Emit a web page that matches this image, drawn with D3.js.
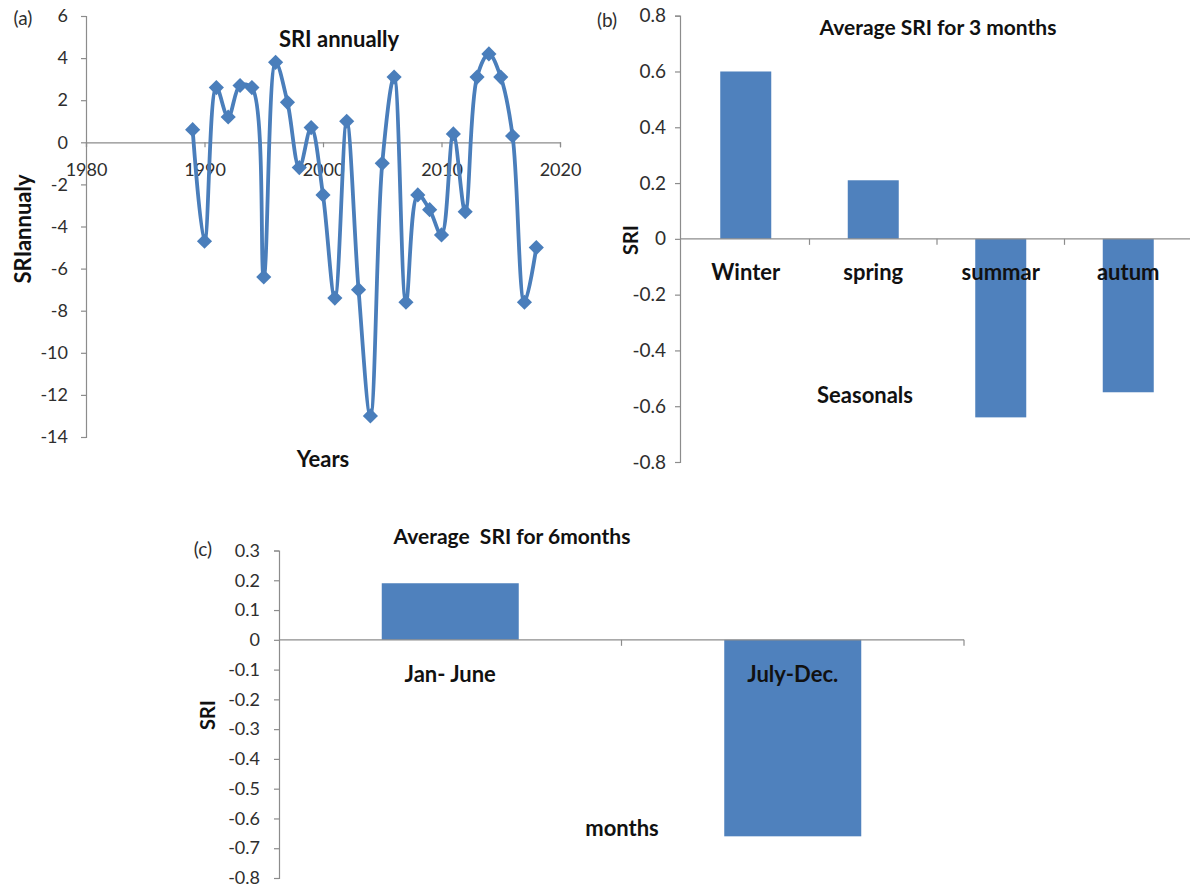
<!DOCTYPE html>
<html>
<head>
<meta charset="utf-8">
<script src="https://cdn.jsdelivr.net/npm/d3@7/dist/d3.min.js"></script>
<style>
  html, body { margin: 0; padding: 0; background: #ffffff; }
  svg { display: block; }
  text { font-family: Lato, "Open Sans", sans-serif; }
  .tick-label { font-size: 18px; fill: #2e2e2e; }
  .bold { font-weight: bold; fill: #111; }
</style>
</head>
<body>
<svg id="chart" width="1190" height="887"></svg>
<script>
// ---- Data ----
// (a) annual SRI
const years = [1989, 1990, 1991, 1992, 1993, 1994, 1995, 1996, 1997, 1998,
               1999, 2000, 2001, 2002, 2003, 2004, 2005, 2006, 2007, 2008,
               2009, 2010, 2011, 2012, 2013, 2014, 2015, 2016, 2017, 2018];
const sriAnnual = [0.6, -4.7, 2.6, 1.2, 2.7, 2.6, -6.4, 3.8, 1.9, -1.2,
                   0.7, -2.5, -7.4, 1.0, -7.0, -13.0, -1.0, 3.1, -7.6, -2.5,
                   -3.2, -4.4, 0.4, -3.3, 3.1, 4.2, 3.1, 0.3, -7.6, -5.0];
const yearTicks = [1980, 1990, 2000, 2010, 2020];
const annualTicks = [6, 4, 2, 0, -2, -4, -6, -8, -10, -12, -14];

// (b) 3-month average SRI
const seasons = ["Winter", "spring", "summar", "autum"];
const sriSeason = [0.6, 0.21, -0.64, -0.55];
const seasonTicks = [0.8, 0.6, 0.4, 0.2, 0, -0.2, -0.4, -0.6, -0.8];

// (c) 6-month average SRI
const halves = ["Jan- June", "July-Dec."];
const sriHalf = [0.19, -0.66];
const halfTicks = [0.3, 0.2, 0.1, 0, -0.1, -0.2, -0.3, -0.4, -0.5, -0.6, -0.7, -0.8];

const BLUE = "#4f81bd";
const LINE_BLUE = "#4a7ebb";
const AXIS = "#8c8c8c";

// plain hyphen for negatives, as in spreadsheet output
const intFmt = d => String(d);
const decFmt = d => d === 0 ? "0" : d.toFixed(1);

const svg = d3.select("#chart");

// Value axis: line, outward ticks and right-aligned labels
function valueAxis(g, y, ticks, x0, fmt, pad, size) {
  const ax = d3.axisLeft(y).tickValues(ticks).tickSize(5).tickPadding(pad).tickFormat(fmt);
  const sel = g.append("g").attr("transform", `translate(${x0},0)`).call(ax);
  sel.select(".domain").attr("stroke", AXIS).attr("stroke-width", 1.2);
  sel.selectAll(".tick line").attr("stroke", AXIS).attr("stroke-width", 1.2);
  sel.selectAll(".tick text").attr("class", "tick-label").attr("font-family", null).attr("font-size", null)
    .style("font-size", size + "px");
  return sel;
}

function txt(g, x, y, s, cls, size, rotate) {
  const t = g.append("text").attr("x", x).attr("y", y).text(s)
    .attr("text-anchor", "middle").attr("dominant-baseline", "central")
    .attr("class", cls).style("font-size", size + "px");
  if (rotate) t.attr("transform", `rotate(-90,${x},${y})`);
  return t;
}

// ---- Panel (a): annual SRI line ----
{
  const g = svg.append("g");
  const x = d3.scaleLinear().domain([1980, 2020]).range([86, 560]);
  const y = d3.scaleLinear().domain([-14, 6]).range([437, 16]);

  valueAxis(g, y, annualTicks, x(1980), intFmt, 13, 18);

  // horizontal axis through zero
  const xa = d3.axisBottom(x).tickValues(yearTicks).tickSize(5).tickPadding(16).tickFormat(intFmt);
  const xs = g.append("g").attr("transform", `translate(0,${y(0)})`).call(xa);
  xs.select(".domain").attr("stroke", AXIS).attr("stroke-width", 1.2);
  xs.selectAll(".tick line").attr("stroke", AXIS).attr("stroke-width", 1.2);
  xs.selectAll(".tick text").attr("class", "tick-label").attr("font-family", null).attr("font-size", null);

  const pts = years.map((yr, i) => [x(yr), y(sriAnnual[i])]);
  g.append("path")
    .attr("d", d3.line().curve(d3.curveCatmullRom.alpha(0.5))(pts))
    .attr("fill", "none").attr("stroke", LINE_BLUE).attr("stroke-width", 3.8)
    .attr("stroke-linejoin", "round");

  g.selectAll("path.marker").data(pts).join("path")
    .attr("class", "marker")
    .attr("d", d3.symbol(d3.symbolSquare, 115)())
    .attr("transform", d => `translate(${d[0]},${d[1]}) rotate(45)`)
    .attr("fill", LINE_BLUE);

  txt(g, 339, 38, "SRI annually", "bold", 22);
  txt(g, 22, 229, "SRIannualy", "bold", 22, true);
  txt(g, 323, 458, "Years", "bold", 22);
  txt(g, 23, 17, "(a)", "tick-label", 19);
}

// ---- Panel (b): seasonal bars ----
{
  const g = svg.append("g");
  const x = d3.scaleBand().domain(seasons).range([682, 1192]).paddingInner(0.6).paddingOuter(0.3);
  const y = d3.scaleLinear().domain([-0.8, 0.8]).range([462, 15.7]);

  valueAxis(g, y, seasonTicks, 680, decFmt, 9, 19);

  g.selectAll("rect").data(seasons).join("rect")
    .attr("x", d => x(d))
    .attr("width", x.bandwidth())
    .attr("y", (d, i) => Math.min(y(0), y(sriSeason[i])))
    .attr("height", (d, i) => Math.abs(y(sriSeason[i]) - y(0)))
    .attr("fill", BLUE);

  // category axis along zero
  g.append("line").attr("x1", 680).attr("x2", 1190).attr("y1", y(0)).attr("y2", y(0))
    .attr("stroke", AXIS).attr("stroke-width", 1.2);
  const step = x.step();
  const bounds = d3.range(1, seasons.length).map(i => x(seasons[0]) - x.paddingOuter() * step + i * step);
  g.selectAll("line.ct").data(bounds).join("line").attr("class", "ct")
    .attr("x1", d => d).attr("x2", d => d).attr("y1", y(0)).attr("y2", y(0) + 6)
    .attr("stroke", AXIS).attr("stroke-width", 1.2);

  seasons.forEach(s => txt(g, x(s) + x.bandwidth() / 2, y(0) + 33, s, "bold", 22));

  txt(g, 938, 26, "Average SRI for 3 months", "bold", 21);
  txt(g, 630, 240, "SRI", "bold", 20, true);
  txt(g, 865, 394, "Seasonals", "bold", 22);
  txt(g, 607, 19, "(b)", "tick-label", 19);
}

// ---- Panel (c): half-year bars ----
{
  const g = svg.append("g");
  const x = d3.scaleBand().domain(halves).range([279, 964]).paddingInner(0.6).paddingOuter(0.3);
  const y = d3.scaleLinear().domain([-0.8, 0.3]).range([878, 550.5]);

  valueAxis(g, y, halfTicks, 279, decFmt, 14, 18);

  g.selectAll("rect").data(halves).join("rect")
    .attr("x", d => x(d))
    .attr("width", x.bandwidth())
    .attr("y", (d, i) => Math.min(y(0), y(sriHalf[i])))
    .attr("height", (d, i) => Math.abs(y(sriHalf[i]) - y(0)))
    .attr("fill", BLUE);

  g.append("line").attr("x1", 279).attr("x2", 964).attr("y1", y(0)).attr("y2", y(0))
    .attr("stroke", AXIS).attr("stroke-width", 1.2);
  const step = x.step();
  const bounds = d3.range(1, halves.length + 1).map(i => 279 + i * step);
  g.selectAll("line.ct").data(bounds).join("line").attr("class", "ct")
    .attr("x1", d => d).attr("x2", d => d).attr("y1", y(0)).attr("y2", y(0) + 6)
    .attr("stroke", AXIS).attr("stroke-width", 1.2);

  halves.forEach(h => txt(g, x(h) + x.bandwidth() / 2, y(0) + 34, h, "bold", 22));

  txt(g, 512, 535, "Average  SRI for 6months", "bold", 21).style("white-space", "pre");
  txt(g, 207, 715, "SRI", "bold", 20, true);
  txt(g, 622, 827, "months", "bold", 22);
  txt(g, 203, 548, "(c)", "tick-label", 19);
}
</script>
</body>
</html>
